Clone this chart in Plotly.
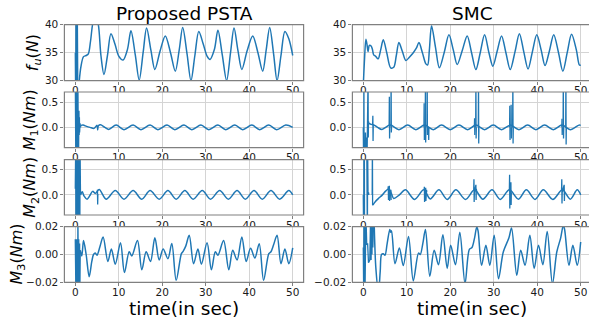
import plotly.graph_objects as go

W, H = 589, 328
BLUE = "#1f77b4"

# ---------------- data ----------------
# Row 1: thrust f_u (N)
fu_psta_spk_t = [0.0, 0.05, 0.1, 0.15, 0.2, 0.25, 0.3, 0.35, 0.4, 0.45, 0.5, 0.6]
fu_psta_spk_v = [35, 45, 25, 45, 25, 45, 25, 45, 25, 45, 25, 27]
fu_psta_t = [0.6, 1.3, 1.9, 2.5, 3.0, 3.5, 4.1, 4.7, 5.3, 5.9, 6.6, 7.4, 8.2, 9.1, 10.0, 11.0, 12.0, 12.8,
             13.8, 14.7, 15.6, 16.4, 17.4, 18.3, 19.5, 20.7, 21.9, 23.0, 23.9, 24.7, 25.7, 26.6, 27.5,
             28.4, 29.4, 30.3, 31.0, 32.0, 32.8, 33.8, 34.8, 35.7, 36.5, 37.4, 38.3, 39.5, 40.8, 42.0,
             43.1, 43.9, 44.7, 45.6, 46.4, 47.3, 48.2, 49.1, 50.0]
fu_psta_v = [27.0, 32.5, 34.3, 34.5, 34.8, 37.0, 40.5, 41.5, 40.0, 34.5, 31.1, 34.5, 38.4, 36.6, 34.4, 33.7,
             35.6, 38.9, 34.6, 30.1, 35.0, 39.4, 35.4, 32.0, 35.3, 38.0, 35.0, 31.7, 35.5, 39.5, 34.8,
             30.0, 34.5, 38.8, 36.6, 34.4, 33.8, 35.6, 39.0, 34.6, 30.0, 35.0, 39.4, 35.4, 32.0, 35.3,
             38.0, 35.0, 31.7, 35.5, 39.5, 34.8, 30.0, 34.5, 38.8, 37.5, 34.5]

fu_smc_spk_t = []
fu_smc_spk_v = []
fu_smc_t = [0.0, 0.3, 0.6, 0.85, 1.1, 1.4, 1.8, 2.1, 2.4, 2.8, 3.4, 4.0, 4.6, 5.4, 6.3, 7.0, 7.6, 8.2, 9.0,
            9.8, 10.6, 11.5, 12.2, 12.8, 13.6, 14.4, 14.8, 15.2, 15.7, 16.6, 17.5, 18.6, 19.7, 20.7,
            21.6, 22.8, 23.9, 24.9, 25.9, 26.9, 27.9, 28.9, 29.8, 30.8, 31.8, 32.8, 33.8, 34.9, 35.9,
            36.9, 37.9, 38.9, 39.9, 40.9, 41.8, 42.8, 43.8, 44.9, 45.9, 46.9, 47.9, 49.0, 49.7, 50.0]
fu_smc_v = [29.0, 34.0, 37.4, 36.5, 35.2, 36.3, 36.2, 35.6, 34.6, 34.4, 33.9, 35.5, 37.3, 35.0, 32.3, 32.4,
            34.5, 36.8, 35.2, 33.6, 34.2, 35.0, 35.8, 36.8, 35.0, 33.0, 32.8, 35.5, 39.8, 36.0, 32.3,
            35.0, 38.2, 35.5, 32.9, 35.5, 38.0, 35.0, 32.0, 35.0, 38.2, 35.0, 32.6, 35.3, 38.0, 35.0,
            32.0, 35.2, 38.4, 35.2, 32.1, 35.2, 38.2, 35.5, 32.7, 35.3, 38.2, 35.0, 31.7, 35.0, 38.3,
            35.5, 32.8, 32.8]

# Row 2: M1 (Nm)
m1_psta_spk_t = [0.0, 0.05, 0.1, 0.15, 0.2, 0.25, 0.3, 0.35, 0.4, 0.45, 0.5, 0.55, 0.6, 0.65, 0.7, 0.75,
                 0.8, 0.85, 0.9, 0.95, 1.0, 1.1, 1.2, 1.3]
m1_psta_spk_v = [1, -1, 1, -1, 1, -1, 1, -1, 1, -1, 1, -1, 1, -1, 1, -1,
                 0.0, 0.33, -0.15, 0.2, -0.1, 0.08, 0.0, 0.04]
m1_psta_t = [1.3, 1.8, 2.6, 3.4, 4.3, 5.0, 5.15, 5.3, 5.8, 6.8, 7.7, 9.4, 11.2, 13.3, 15.1, 17.2, 19.0,
             21.1, 22.9, 25.0, 26.8, 28.9, 30.7, 32.8, 34.6, 36.7, 38.5, 40.6, 42.4, 44.5, 46.3, 48.4, 50.0]
m1_psta_v = [0.04, 0.045, 0.02, 0.0, -0.02, 0.04, -0.05, 0.03, 0.05, 0.0, -0.04, 0.045, -0.045, 0.045,
             -0.045, 0.045, -0.045, 0.045, -0.045, 0.045, -0.045, 0.045, -0.045, 0.045, -0.045, 0.045,
             -0.045, 0.045, -0.045, 0.045, -0.045, 0.045, 0.0]

m1_smc_spk_t = [0.0, 0.05, 0.1, 0.15, 0.2, 0.3, 0.4, 0.5, 0.6, 0.7, 0.8, 0.9, 1.0, 1.1, 1.15, 1.2, 1.3, None,
                2.15, 2.2, 2.25, 2.3, None,
                5.95, 6.0, 6.05, 6.1, None, 6.35, 6.4, 6.45, 6.5, None,
                13.95, 14.0, 14.05, 14.1, None, 14.25, 14.3, 14.35, 14.4, None, 14.65, 14.7, 14.75, 14.8, None,
                15.0, 15.05, 15.1, None,
                25.55, 25.6, 25.65, 25.7, None, 25.85, 25.9, 25.95, 26.0, None, 26.45, 26.5, 26.55, 26.6, None,
                33.65, 33.7, 33.75, 33.8, None, 33.95, 34.0, 34.05, 34.1, None, 34.35, 34.4, 34.45, 34.5, None,
                45.65, 45.7, 45.75, 45.8, None, 45.95, 46.0, 46.05, 46.1, None, 46.55, 46.6, 46.65, 46.7]
m1_smc_spk_v = [0, 1, -1, 1, -1, -0.3, -1, -0.1, -0.6, -0.2, -1, -0.4, 0.1, 1, -0.2, 0.12, 0.08, None,
                0.05, 0.23, -0.27, 0.05, None,
                0.03, 0.61, -0.22, 0.0, None, 0.0, 1.0, -0.1, 0.0, None,
                0.0, 0.48, -0.25, 0.0, None, 0.0, 1.0, -0.3, 0.0, None, 0.0, 1.0, -0.15, 0.0, None,
                0.0, -0.25, 0.0, None,
                0.0, 0.18, -0.15, 0.0, None, 0.0, 1.0, -0.22, 0.0, None, 0.0, 1.0, -0.32, 0.0, None,
                0.0, 0.43, -0.25, 0.0, None, 0.0, 0.45, -0.22, 0.0, None, 0.0, 1.0, -0.32, 0.0, None,
                0.0, 0.17, -0.15, 0.0, None, 0.0, 1.0, -0.22, 0.0, None, 0.0, 1.0, -0.34, 0.0]
m1_smc_t = [1.3, 1.8, 2.4, 3.3, 4.3, 6.2, 8.2, 10.2, 12.1, 14.1, 16.1, 18.0, 20.0, 22.0, 24.0, 25.9, 27.9,
            29.9, 31.8, 33.8, 35.8, 37.8, 39.7, 41.7, 43.7, 45.7, 47.6, 49.6, 50.0]
m1_smc_v = [0.08, 0.06, 0.05, 0.0, -0.04, 0.045, -0.045, 0.045, -0.045, 0.045, -0.045, 0.045, -0.045,
            0.045, -0.045, 0.045, -0.045, 0.045, -0.045, 0.045, -0.045, 0.045, -0.045, 0.045, -0.045,
            0.045, -0.045, 0.045, 0.04]

# Row 3: M2 (Nm)
m2_psta_spk_t = [0.0, 0.05, 0.1, 0.15, 0.2, 0.25, 0.3, 0.35, 0.4, 0.45, 0.5, 0.55, 0.6, 0.65, 0.7, 0.75,
                 0.8, 0.85, 0.9, 0.95, 1.0, 1.05, 1.1, 1.2, None, 5.05, 5.1, 5.15, 5.2]
m2_psta_spk_v = [0.12, -1, 1, -1, 1, -1, 1, -1, 1, -1, 1, -1, 1, -1, 1, -1, 1, -1, 1, -1, 1, -1, 1, 0.0,
                 None, 0.0, 0.1, -0.19, 0.02]
m2_psta_t = [1.2, 1.6, 2.0, 2.7, 3.3, 4.0, 4.6, 5.5, 7.1, 9.2, 11.2, 13.3, 15.3, 17.2, 19.3, 21.3, 23.2,
             25.2, 27.1, 29.2, 31.1, 33.2, 35.2, 37.2, 39.1, 41.1, 43.0, 45.0, 47.0, 49.1, 50.0]
m2_psta_v = [0.0, 0.06, -0.02, -0.085, -0.02, 0.07, 0.03, 0.105, -0.085, 0.085, -0.085, 0.085, -0.085,
             0.085, -0.085, 0.085, -0.085, 0.085, -0.085, 0.085, -0.085, 0.085, -0.085, 0.085, -0.085,
             0.085, -0.085, 0.085, -0.085, 0.085, 0.0]

m2_smc_spk_t = [0.0, 0.05, 0.1, 0.15, 0.2, 0.25, 0.3, None, 0.8, 0.85, 0.9, 0.95, 1.0, 1.1, 1.2, 1.3, None,
                2.05, 2.1, 2.15, 2.2, None,
                5.7, 5.75, 5.8, 5.85, 6.0, 6.05, 6.1, 6.3, 6.35, 6.4, None,
                14.0, 14.05, 14.1, 14.3, 14.35, 14.4, 14.55, 14.6, None,
                25.4, 25.45, 25.5, 25.55, 25.9, 25.95, 26.0, 26.1, None,
                33.6, 33.65, 33.7, 33.75, 33.95, 34.0, 34.05, None,
                45.6, 45.65, 45.7, 45.75, 46.2, 46.25, 46.3, 46.4]
m2_smc_spk_v = [0.0, 1, -1, 1, -1, 1, -1, None, 1, -1, 1, -1, 1, 0.0, 0.05, 0.0, None,
                0.0, 1.0, -0.2, -0.2, None,
                0.12, 0.17, -0.1, 0.1, 0.18, -0.12, 0.08, 0.05, 0.1, -0.1, None,
                0.1, 0.16, -0.14, 0.1, 0.14, -0.12, 0.1, 0.05, None,
                0.1, 0.31, -0.14, 0.05, 0.2, -0.1, 0.12, 0.05, None,
                0.1, 0.4, -0.27, 0.05, 0.25, -0.2, 0.05, None,
                0.1, 0.31, -0.17, 0.05, 0.2, -0.12, 0.05, 0.05]
m2_smc_t = [2.2, 2.8, 3.5, 4.4, 5.2, 5.9, 6.5, 7.0, 8.3, 9.7, 11.8, 13.9, 15.4, 17.4, 19.3, 21.3, 23.5, 25.6,
            27.5, 29.6, 31.5, 33.6, 35.7, 37.5, 39.5, 41.4, 43.6, 45.8, 47.6, 49.2, 50.0]
m2_smc_v = [-0.2, -0.13, -0.07, 0.0, 0.08, 0.12, 0.02, -0.07, 0.0, 0.1, -0.09, 0.1, -0.08, 0.1, -0.09, 0.1,
            -0.09, 0.1, -0.085, 0.1, -0.09, 0.1, -0.085, 0.1, -0.09, 0.1, -0.09, 0.1, -0.085, 0.1, 0.0]

# Row 4: M3 (Nm)
m3_psta_spk_t = [0.0, 0.05, 0.1, 0.15, 0.2, 0.25, 0.3, 0.35, 0.4, 0.45, 0.5, 0.55, 0.6, 0.65, 0.7, 0.75,
                 0.8, 0.85, 0.9, 0.95, 1.0, 1.05, 1.1, 1.15]
m3_psta_spk_v = [0.011, -0.03, 0.011, -0.03, 0.008, -0.03, 0.011, -0.03, 0.006, -0.03, 0.011, -0.03, 0.03,
                 -0.03, 0.008, -0.03, 0.011, -0.03, 0.006, -0.03, 0.008, -0.03, 0.004, 0.003]
m3_psta_t = [1.15, 1.5, 1.9, 2.5, 3.2, 3.8, 4.2, 4.6, 5.0, 5.7, 6.4, 7.5, 8.3, 9.2, 10.4, 11.3, 12.4, 13.0,
             14.3, 15.3, 16.3, 17.3, 18.3, 19.3, 20.2, 21.3, 22.2, 23.2, 24.4, 24.8, 25.4, 26.2, 27.2,
             28.2, 29.0, 30.3, 31.3, 32.2, 32.8, 34.1, 35.3, 36.2, 37.2, 38.3, 39.3, 40.3, 41.3, 42.3,
             43.3, 44.5, 45.0, 45.6, 46.4, 47.3, 48.2, 49.1, 50.0]
m3_psta_v = [0.003, -0.001, 0.010, 0.0, -0.016, -0.005, 0.0, 0.001, -0.0005, 0.006, 0.0126, -0.005, 0.004,
             -0.007, 0.0085, -0.013, 0.002, -0.001, 0.010, -0.011, 0.002, -0.005, 0.012, -0.004, 0.004,
             -0.003, 0.008, -0.0186, 0.0006, 0.0023, 0.006, 0.0138, -0.0066, 0.004, -0.007, 0.0085,
             -0.011, 0.002, -0.0005, 0.010, -0.011, 0.003, -0.004, 0.0126, -0.005, 0.0045, -0.0025,
             0.0078, -0.0186, 0.0006, 0.002, 0.007, 0.0138, -0.0066, 0.004, -0.0066, 0.0047]

m3_smc_spk_t = [0.0, 0.05, 0.1, 0.15, 0.2, 0.25, 0.3, 0.35, 0.4, 0.6, 0.8, 1.0, 1.2, 1.5, 1.7, 1.8, 1.9,
                2.0, 2.1, 2.2, 2.3, 2.45]
m3_smc_spk_v = [0.005, 0.03, -0.03, 0.03, -0.03, 0.03, -0.03, 0.03, -0.03, 0.03, 0.007, 0.008, -0.006,
                -0.004, 0.03, -0.004, 0.03, 0.0, 0.03, 0.005, 0.03, 0.03]
m3_smc_t = [2.45, 2.9, 3.5, 3.9, 4.2, 4.6, 5.0, 5.5, 6.1, 6.3, 6.5, 7.3, 8.3, 9.2, 10.4, 11.5, 12.7, 13.1,
            13.7, 14.3, 15.3, 16.3, 17.3, 18.3, 19.3, 20.1, 21.2, 22.2, 23.4, 24.4, 25.0, 25.6, 26.1,
            26.4, 27.2, 28.2, 29.1, 30.1, 31.1, 32.2, 33.5, 34.1, 35.3, 36.2, 37.2, 38.3, 39.3, 40.3,
            41.3, 42.3, 43.5, 44.5, 45.4, 46.0, 46.3, 47.3, 48.2, 49.2, 50.0]
m3_smc_v = [0.03, -0.01, -0.027, -0.012, 0.0, 0.0006, -0.0005, 0.008, 0.018, 0.016, 0.017, -0.0066,
            0.0047, -0.008, 0.013, -0.019, 0.001, 0.0, 0.008, 0.018, -0.0157, 0.003, -0.0073, 0.0142,
            -0.010, 0.0066, -0.0073, 0.016, -0.021, 0.0037, 0.005, 0.012, 0.0198, 0.017, -0.0078,
            0.0066, -0.0078, 0.0138, -0.0174, 0.0018, 0.012, 0.019, -0.015, 0.003, -0.0078, 0.0138,
            -0.010, 0.0066, -0.0073, 0.0166, -0.021, 0.0018, 0.012, 0.021, 0.018, -0.0078, 0.0066,
            -0.0078, 0.009]

col_titles = ["Proposed PSTA", "SMC"]
row_labels = ["<i>f</i><sub><i>u</i></sub>(<i>N</i>)",
              "<i>M</i><sub>1</sub>(<i>Nm</i>)",
              "<i>M</i><sub>2</sub>(<i>Nm</i>)",
              "<i>M</i><sub>3</sub>(<i>Nm</i>)"]
x_title = "time(in sec)"
x_ticks = [0, 10, 20, 30, 40, 50]
y_ticks = [[30, 35, 40], [0.0, 0.5], [0.0, 0.5], [-0.02, 0.0, 0.02]]
y_fmt = ["d", ".1f", ".1f", ".2f"]
y_ranges = [[30, 40], [-0.405, 0.705], [-0.4, 0.7], [-0.02, 0.02]]

panels = [
    [(fu_psta_t, fu_psta_v, fu_psta_spk_t, fu_psta_spk_v), (fu_smc_t, fu_smc_v, fu_smc_spk_t, fu_smc_spk_v)],
    [(m1_psta_t, m1_psta_v, m1_psta_spk_t, m1_psta_spk_v), (m1_smc_t, m1_smc_v, m1_smc_spk_t, m1_smc_spk_v)],
    [(m2_psta_t, m2_psta_v, m2_psta_spk_t, m2_psta_spk_v), (m2_smc_t, m2_smc_v, m2_smc_spk_t, m2_smc_spk_v)],
    [(m3_psta_t, m3_psta_v, m3_psta_spk_t, m3_psta_spk_v), (m3_smc_t, m3_smc_v, m3_smc_spk_t, m3_smc_spk_v)],
]

# ---------------- layout geometry (pixels) ----------------
col_px = [(64.4, 303.6), (352.4, 589.0)]
x_ranges = [[-2.5, 52.5], [-2.5, 51.91]]
row_px = [(24.7, 80.7), (92.0, 147.7), (159.7, 215.0), (226.7, 282.3)]

FONT = "DejaVu Sans"
TXT = "#1a1a1a"
FRAME = "#808080"
GRID = "#d4d4d4"

fig = go.Figure()
layout = dict(width=W, height=H, margin=dict(l=0, r=0, t=0, b=0, autoexpand=False),
              paper_bgcolor="white", plot_bgcolor="white", showlegend=False,
              font=dict(family=FONT, size=10.5, color=TXT))
shapes = []
annotations = []

for r in range(4):
    for c in range(2):
        n = r * 2 + c + 1
        xs = "x" if n == 1 else f"x{n}"
        ys = "y" if n == 1 else f"y{n}"
        tt, vv, st, sv = panels[r][c]
        if st:
            fig.add_trace(go.Scatter(x=st, y=sv, mode="lines", xaxis=xs, yaxis=ys,
                                     line=dict(color=BLUE, width=1.3), connectgaps=False,
                                     hoverinfo="skip"))
        fig.add_trace(go.Scatter(x=tt, y=vv, mode="lines", xaxis=xs, yaxis=ys,
                                 line=dict(color=BLUE, width=1.5, shape="spline", smoothing=0.9),
                                 hoverinfo="skip"))
        x0p, x1p = col_px[c]
        y0p, y1p = row_px[r]
        xd = [x0p / W, min(x1p / W, 1.0)]
        yd = [1 - y1p / H, 1 - y0p / H]
        layout["xaxis" if n == 1 else f"xaxis{n}"] = dict(
            domain=xd, range=x_ranges[c], anchor=ys, tickvals=x_ticks, automargin=False,
            showgrid=True, gridcolor=GRID, gridwidth=1, zeroline=False, showline=False,
            ticks="outside", ticklen=3, tickcolor=FRAME, ticklabelstandoff=-3,
            tickfont=dict(size=10.5, color=TXT))
        layout["yaxis" if n == 1 else f"yaxis{n}"] = dict(
            domain=yd, range=y_ranges[r], anchor=xs, tickvals=y_ticks[r], tickformat=y_fmt[r],
            automargin=False,
            showgrid=True, gridcolor=GRID, gridwidth=1, zeroline=False, showline=False,
            ticks="outside", ticklen=3, tickcolor=FRAME, tickfont=dict(size=10.5, color=TXT))
        # opaque panel face (hides the tick labels of the panel above, as in the original)
        if r > 0:
            shapes.append(dict(type="rect", xref=xs, yref=ys, layer="below",
                               x0=x_ranges[c][0], x1=x_ranges[c][1],
                               y0=y_ranges[r][0], y1=y_ranges[r][1],
                               fillcolor="white", line=dict(width=0)))
        # frame
        shapes.append(dict(type="rect", xref="paper", yref="paper", layer="above",
                           x0=x0p / W, x1=(x1p + (10 if c == 1 else 0)) / W,
                           y0=1 - y1p / H, y1=1 - y0p / H,
                           line=dict(color=FRAME, width=1.2), fillcolor="rgba(0,0,0,0)"))

for c in range(2):
    cx = (col_px[c][0] + (303.6 if c == 0 else 591.6)) / 2
    annotations.append(dict(text=col_titles[c], x=cx / W, y=1 - 13.5 / H, xref="paper", yref="paper",
                            showarrow=False, xanchor="center", yanchor="middle",
                            font=dict(family=FONT, size=18.5, color="black")))
    annotations.append(dict(text=x_title, x=cx / W, y=1 - 308.5 / H, xref="paper", yref="paper",
                            showarrow=False, xanchor="center", yanchor="middle",
                            font=dict(family=FONT, size=18.5, color="black")))

label_x = [33.5, 30.5, 30.5, 17.0]
for r in range(4):
    cy = (row_px[r][0] + row_px[r][1]) / 2
    annotations.append(dict(text=row_labels[r], x=label_x[r] / W, y=1 - cy / H, xref="paper", yref="paper",
                            showarrow=False, xanchor="center", yanchor="middle", textangle=-90,
                            font=dict(family=FONT, size=16, color="black")))

layout["shapes"] = shapes
layout["annotations"] = annotations
fig.update_layout(**layout)
fig.write_html("out.html", config={"displayModeBar": False, "staticPlot": True},
               post_script="document.body.style.margin='0px';document.body.style.overflow='hidden';")
